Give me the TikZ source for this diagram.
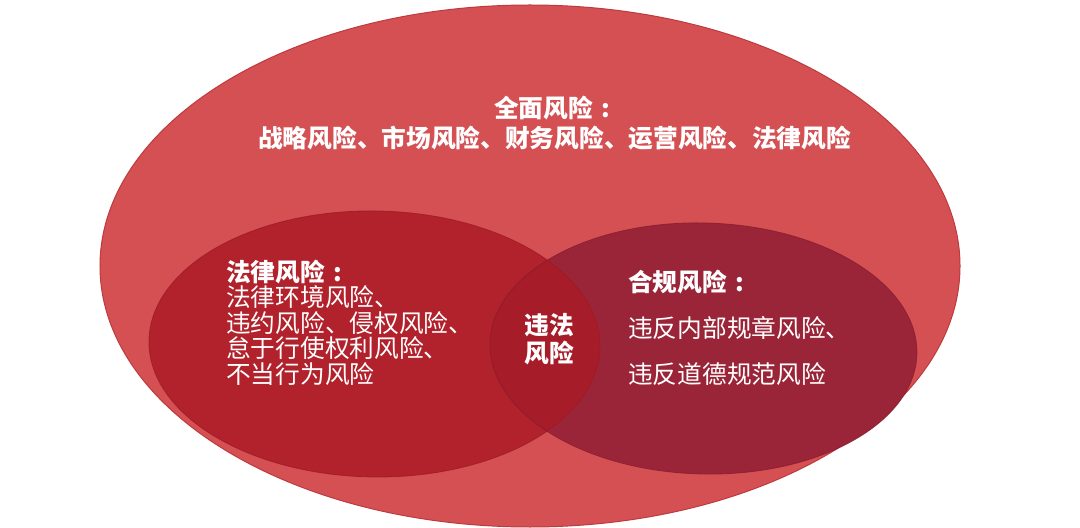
\documentclass[tikz,border=0pt]{standalone}
\usepackage{fontspec}
\setmainfont{Noto Sans CJK SC}
\newfontfamily\cjk{Noto Sans CJK SC}
\definecolor{bigred}{RGB}{212,80,83}
\definecolor{bigedge}{RGB}{190,58,62}
\definecolor{legalred}{RGB}{177,34,44}
\definecolor{legaledge}{RGB}{158,26,36}
\definecolor{compred}{RGB}{155,37,56}
\definecolor{compedge}{RGB}{136,28,46}
\definecolor{lensred}{RGB}{167,28,41}
\newcommand{\cjkcolon}{\makebox[1em][c]{:}}
\tikzset{
  txt/.style={inner sep=0pt, text=white, anchor=west, font=\cjk\fontsize{24.7bp}{25.5bp}\selectfont},
  hdr/.style={txt, font=\cjk\bfseries\fontsize{24.7bp}{25.5bp}\selectfont},
  bigshape/.style={x radius=430bp, y radius=261bp},
  legalshape/.style={x radius=225.5bp, y radius=133bp},
  compshape/.style={x radius=213.5bp, y radius=125.5bp},
}
\begin{document}
\begin{tikzpicture}[x=1bp,y=-1bp]
\useasboundingbox (0,0) rectangle (1080,528);
\coordinate (bigc) at (530,266);
\coordinate (legc) at (374.5,344);
\coordinate (comc) at (703.5,348.5);
% big ellipse
\fill[bigred] (bigc) ellipse [bigshape];
\draw[bigedge, line width=1pt] (bigc) ellipse [bigshape];
% legal ellipse
\fill[legalred, rotate around={-0.8:(legc)}] (legc) ellipse [legalshape];
% compliance ellipse
\fill[compred, rotate around={-1.5:(comc)}] (comc) ellipse [compshape];
% lens (intersection)
\begin{scope}
  \clip[rotate around={-0.8:(legc)}] (legc) ellipse [legalshape];
  \fill[lensred, rotate around={-1.5:(comc)}] (comc) ellipse [compshape];
\end{scope}
\draw[legaledge, line width=0.8pt, opacity=0.8, rotate around={-0.8:(legc)}] (legc) ellipse [legalshape];
\draw[compedge, line width=0.8pt, opacity=0.8, rotate around={-1.5:(comc)}] (comc) ellipse [compshape];
% texts
\node[hdr] (allh) at (494,108) {全面风险\cjkcolon};
\node[hdr] (alll) at (258,138) {战略风险、市场风险、财务风险、运营风险、法律风险};
\node[hdr] (legh) at (226,272) {法律风险\cjkcolon};
\node[txt] (leg1) at (226,297) {法律环境风险、};
\node[txt] (leg2) at (226,323) {违约风险、侵权风险、};
\node[txt] (leg3) at (226,348.5) {怠于行使权利风险、};
\node[txt] (leg4) at (226,374) {不当行为风险};
\node[hdr, anchor=center] (lens1) at (549,325) {违法};
\node[hdr, anchor=center] (lens2) at (549,353.5) {风险};
\node[hdr] (comh) at (628,282) {合规风险\cjkcolon};
\node[txt] (com1) at (628,328) {违反内部规章风险、};
\node[txt] (com2) at (628,374) {违反道德规范风险};
\end{tikzpicture}
\end{document}
